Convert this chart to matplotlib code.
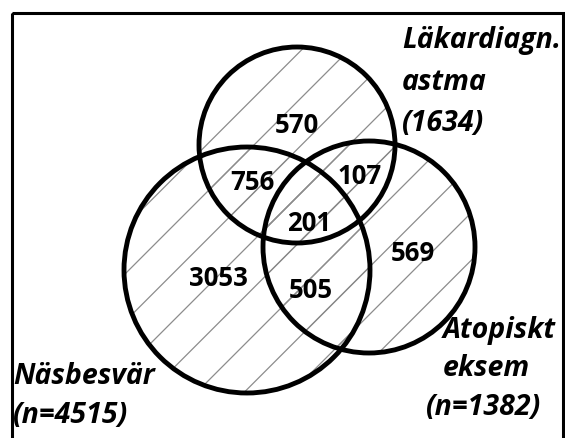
import numpy as np
import matplotlib
matplotlib.use("Agg")
import matplotlib.pyplot as plt
from matplotlib.patches import Circle, Rectangle

# region counts (Venn areas)
region_values = [570, 756, 107, 201, 3053, 505, 569]
# set labels, one line per entry
set_labels = [
    ["Läkardiagn.", "astma", "(1634)"],
    ["Näsbesvär", "(n=4515)"],
    ["Atopiskt", "eksem", "(n=1382)"],
]

# layout in pixel coordinates (y down)
circles = [((297, 146), 98), ((247, 271), 123), ((369, 248), 106)]
value_pos = [(297, 126), (252, 183), (360, 177), (309, 224), (218, 279), (311, 291), (413, 254)]
label_pos = [[(402, 48), (402, 90), (402, 131)],
             [(13, 384), (13, 423)],
             [(443, 338), (443, 376), (426, 415)]]

fig = plt.figure(figsize=(5.65, 4.39), dpi=100)
ax = fig.add_axes([0, 0, 1, 1])
ax.set_xlim(0, 565)
ax.set_ylim(439, 0)
ax.axis("off")

# frame
ax.add_patch(Rectangle((12, 14), 551, 440, fill=False, ec="black", lw=2.2, zorder=1))

# hatch lines clipped to each circle
offsets = 495 + 47.5 * np.arange(-6, 8)
for (cx, cy), r in circles:
    clip = Circle((cx, cy), r, transform=ax.transData)
    for c in offsets:
        ln, = ax.plot([c, c - 439], [0, 439], color="#8c8c8c", lw=0.9, zorder=2)
        ln.set_clip_path(clip)

for (cx, cy), r in circles:
    ax.add_patch(Circle((cx, cy), r, fill=False, ec="black", lw=3.5, zorder=3))

for v, (x, y) in zip(region_values, value_pos):
    ax.text(x, y, str(v), ha="center", va="center", fontsize=18.5,
            fontweight="bold", family="Open Sans", zorder=4)

for lines, pos in zip(set_labels, label_pos):
    for txt, (x, y) in zip(lines, pos):
        ax.text(x, y, txt, ha="left", va="baseline", fontsize=20.5,
                fontweight="bold", fontstyle="italic", family="Open Sans", zorder=4)

fig.savefig("out.png", dpi=100)
